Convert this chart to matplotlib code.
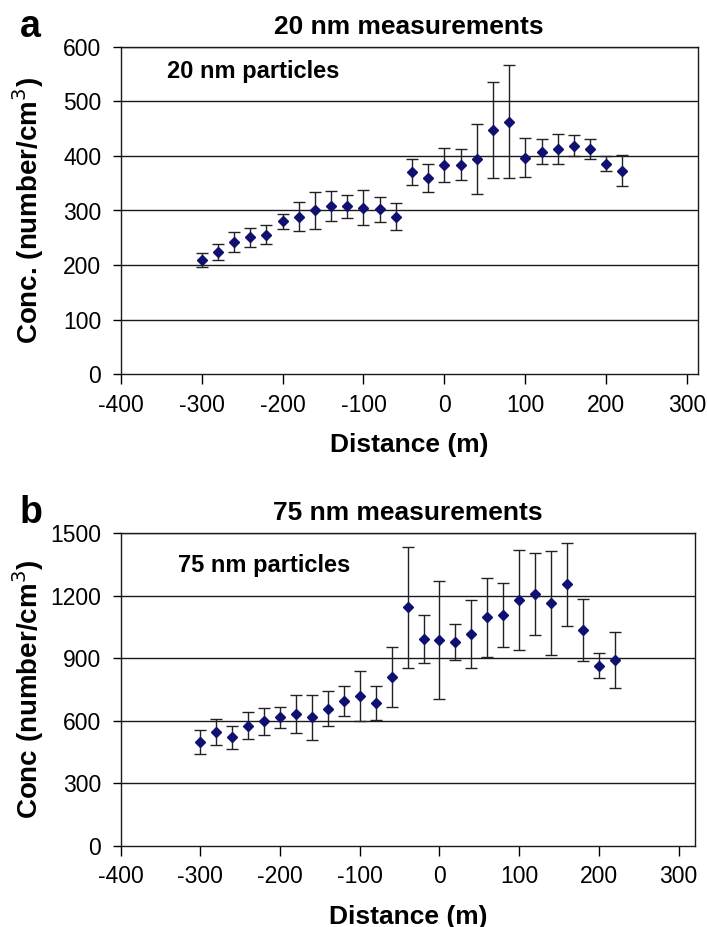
import matplotlib
matplotlib.use('Agg')
import matplotlib.pyplot as plt

plt.rcParams['font.family'] = ['Liberation Sans', 'DejaVu Sans']
plt.rcParams['axes.unicode_minus'] = False

# Distance along the transect (m)
distance = [-300, -280, -260, -240, -220, -200, -180, -160, -140, -120, -100, -80, -60,
            -40, -20, 0, 20, 40, 60, 80, 100, 120, 140, 160, 180, 200, 220]

# 20 nm particle concentration and error (number/cm3)
conc_20 = [210, 224, 242, 251, 256, 280, 289, 300, 308, 308, 305, 302, 289,
           370, 359, 384, 384, 395, 448, 463, 397, 408, 413, 419, 413, 386, 373]
err_20 = [13, 15, 18, 17, 17, 14, 26, 33, 27, 21, 32, 23, 25,
          24, 26, 31, 28, 64, 88, 103, 35, 23, 27, 20, 18, 13, 29]

# 75 nm particle concentration and error (number/cm3)
conc_75 = [499, 546, 520, 575, 597, 616, 632, 616, 658, 693, 719, 685, 809,
           1145, 992, 988, 979, 1015, 1097, 1109, 1180, 1208, 1165, 1255, 1036, 863, 890]
err_75 = [57, 63, 57, 65, 64, 50, 93, 108, 85, 72, 120, 80, 143,
          290, 117, 283, 87, 163, 189, 154, 240, 197, 250, 200, 147, 60, 135]

xticks = [-400, -300, -200, -100, 0, 100, 200, 300]

panels = [
    dict(letter='a', title='20 nm measurements', note='20 nm particles',
         ylabel='Conc. (number/cm$^3$)', y=conc_20, err=err_20,
         yticks=[0, 100, 200, 300, 400, 500, 600], xmax=313,
         rect=[120.7, 46.7, 697.7, 374.3], note_pos=(0.080, 0.904), letter_y=37),
    dict(letter='b', title='75 nm measurements', note='75 nm particles',
         ylabel='Conc (number/cm$^3$)', y=conc_75, err=err_75,
         yticks=[0, 300, 600, 900, 1200, 1500], xmax=321,
         rect=[120.7, 533.3, 695.3, 845.7], note_pos=(0.100, 0.877), letter_y=523),
]

W, H = 707, 927
fig = plt.figure(figsize=(W / 100, H / 100), dpi=100)

for p in panels:
    x0, y0, x1, y1 = p['rect']
    ax = fig.add_axes([x0 / W, 1 - y1 / H, (x1 - x0) / W, (y1 - y0) / H])

    for t in p['yticks'][1:]:
        ax.axhline(t, color='#1a1a1a', lw=1.0, zorder=1)

    ax.errorbar(distance, p['y'], yerr=p['err'], fmt='D', ms=5.2,
                mfc='#101070', mec='#101070', ecolor='#222222',
                elinewidth=1.0, capsize=4, capthick=1.0, zorder=3)

    ax.set_xlim(-400, p['xmax'])
    ax.set_ylim(p['yticks'][0], p['yticks'][-1])
    ax.set_xticks(xticks)
    ax.set_yticks(p['yticks'])
    ax.tick_params(axis='x', direction='out', length=7, width=1.0, pad=7, labelsize=16.5)
    ax.tick_params(axis='y', direction='out', length=6, width=1.0, pad=8, labelsize=16.5)
    for s in ax.spines.values():
        s.set_linewidth(1.0)
        s.set_color('#1a1a1a')

    ax.set_title(p['title'], fontsize=19, fontweight='bold', pad=9.5)
    ax.set_xlabel('Distance (m)', fontsize=19, fontweight='bold', labelpad=12)
    ax.set_ylabel(p['ylabel'], fontsize=20, fontweight='bold', va='center')
    ax.yaxis.set_label_coords(-0.161, 0.5)

    ax.text(p['note_pos'][0], p['note_pos'][1], p['note'], transform=ax.transAxes,
            fontsize=17, fontweight='bold', va='baseline', ha='left')

    fig.text(20 / W, 1 - p['letter_y'] / H, p['letter'], fontsize=27,
             fontweight='bold', va='baseline', ha='left')

fig.savefig('out.png', dpi=100)
